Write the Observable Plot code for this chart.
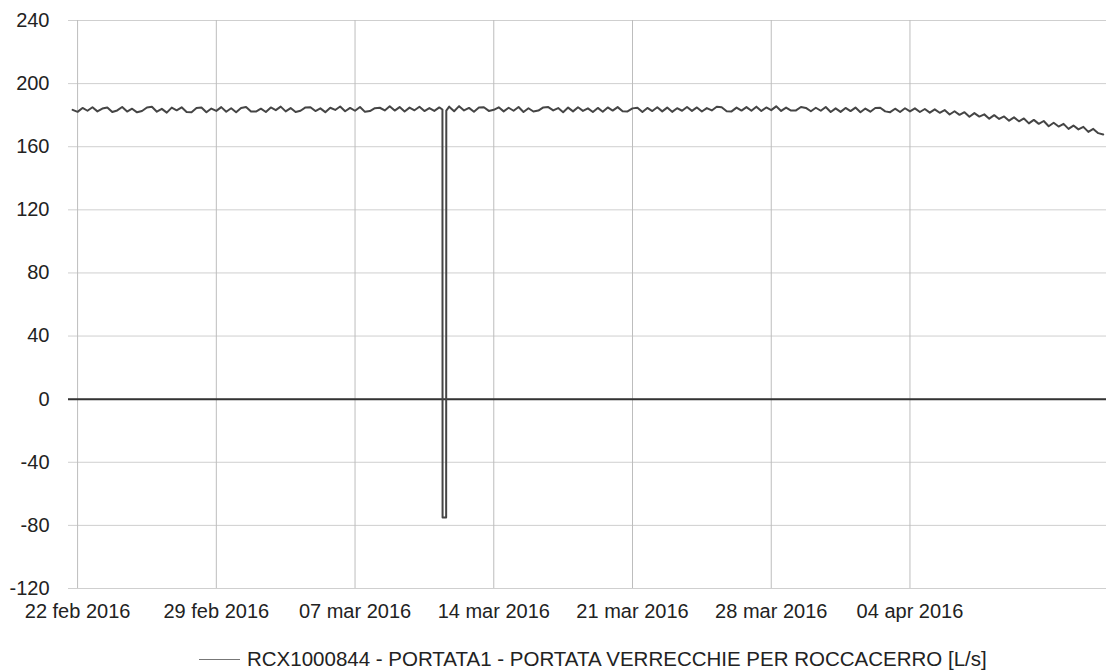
<!DOCTYPE html>
<html>
<head>
<meta charset="utf-8">
<script src="https://cdn.jsdelivr.net/npm/d3@7"></script>
<script src="https://cdn.jsdelivr.net/npm/@observablehq/plot@0.6"></script>
<style>
  body { margin: 0; background: #fff; font-family: "Liberation Sans", Arial, sans-serif; }
  #chart { position: relative; width: 1110px; height: 671px; overflow: hidden; }
  #legend { position: absolute; left: 199px; top: 647px; font-size: 20.5px; line-height: 24px; color: #222;
            display: flex; align-items: center; white-space: nowrap; }
  #legend .sw { width: 41px; height: 0; border-top: 1.5px solid #777; margin-right: 7px; }
</style>
</head>
<body>
<div id="chart"><div id="legend"><span class="sw"></span><span id="legendText"></span></div></div>
<script>
// ---- data ----
const seriesName = "RCX1000844 - PORTATA1 - PORTATA VERRECCHIE PER ROCCACERRO [L/s]";
const seriesStart = "2016-02-21T18:00:00Z";   // first sample
const stepHours = 6;                          // sample spacing
// flow [L/s], one row per day (00, 06, 12, 18 h), first value = 21 feb 18h
const flow = [
  183.4,
  182.1, 184.6, 182.8, 185.0,
  182.4, 184.2, 184.9, 182.0,
  183.0, 185.2, 182.3, 184.1,
  181.8, 182.6, 184.9, 185.3,
  182.2, 184.0, 181.6, 184.8,
  183.1, 185.0, 182.0, 181.9,
  184.5, 184.9, 181.8, 184.2,
  182.7, 185.1, 182.2, 184.4,
  181.9, 184.6, 185.2, 182.3,
  182.3, 184.1, 182.0, 184.9,
  183.2, 185.4, 182.4, 184.5,
  182.0, 182.8, 184.9, 185.0,
  182.6, 184.3, 181.9, 184.7,
  183.3, 185.5, 182.5, 184.6,
  182.8, 185.2, 182.1, 182.6,
  184.4, 184.7, 183.0, 185.6,
  182.9, 185.1, 182.3, 184.8,
  183.1, 185.3, 182.6, 184.5,
  182.7, 184.9, 183.2, 185.4,
  182.5, 185.7, 183.0, 184.6,
  182.2, 184.8, 185.0, 182.7,
  183.4, 185.0, 182.4, 184.7,
  182.8, 185.2, 182.0, 184.4,
  182.3, 182.9, 184.9, 185.1,
  183.0, 184.5, 181.9, 184.8,
  182.4, 185.0, 182.7, 184.3,
  182.0, 184.6, 182.2, 184.9,
  182.9, 185.1, 182.5, 182.4,
  184.3, 184.7, 182.0, 184.6,
  182.6, 185.0, 182.4, 184.8,
  182.1, 184.4, 182.8, 185.2,
  182.7, 184.9, 182.3, 184.5,
  183.0, 185.3, 185.0, 182.5,
  182.4, 184.8, 182.9, 185.1,
  182.8, 185.4, 182.6, 184.9,
  183.2, 185.6, 182.7, 184.8,
  182.9, 183.0, 185.2, 184.6,
  182.5, 184.7, 182.8, 185.2,
  182.0, 184.3, 182.1, 184.6,
  182.6, 184.8, 181.8, 184.2,
  182.2, 184.5, 184.7, 182.4,
  181.9, 184.1, 182.0, 184.4,
  182.4, 184.3, 182.0, 183.9,
  181.6, 183.7, 181.5, 183.2,
  180.4, 182.5, 180.2, 181.9,
  179.0, 181.3, 179.1, 180.5,
  177.8, 180.0, 177.6, 179.2,
  176.5, 178.6, 176.1, 177.9,
  174.8, 177.0, 174.5, 176.3,
  173.0, 175.2, 172.8, 174.5,
  171.3, 173.4, 171.0, 172.6,
  169.4, 171.3, 168.6, 167.8
];
// the short drop on 11 mar
const spikeTimes  = ["2016-03-11T09:50:00Z", "2016-03-11T10:00:00Z", "2016-03-11T14:20:00Z", "2016-03-11T14:30:00Z"];
const spikeValues = [183.6, -75, -75, 182.9];

const yTicks = [-120, -80, -40, 0, 40, 80, 120, 160, 200, 240];
const xTickDates  = ["2016-02-22", "2016-02-29", "2016-03-07", "2016-03-14", "2016-03-21", "2016-03-28", "2016-04-04"];
const xTickLabels = ["22 feb 2016", "29 feb 2016", "07 mar 2016", "14 mar 2016", "21 mar 2016", "28 mar 2016", "04 apr 2016"];
const xDomain = ["2016-02-21T13:00:00Z", "2016-04-13T22:00:00Z"];

// ---- build table ----
const t0 = new Date(seriesStart).getTime();
const sTimes = spikeTimes.map(s => new Date(s).getTime());
const sLo = d3.min(sTimes), sHi = d3.max(sTimes);
const rows = flow.map((v, i) => ({ t: t0 + i * stepHours * 3600e3, v }))
  .filter(d => d.t < sLo || d.t > sHi)
  .concat(sTimes.map((t, i) => ({ t, v: spikeValues[i] })))
  .sort((a, b) => a.t - b.t)
  .map(d => ({ t: new Date(d.t), v: d.v }));

const xTicks = xTickDates.map(s => new Date(s + "T00:00:00Z"));
const labelOf = new Map(xTicks.map((d, i) => [+d, xTickLabels[i]]));

const chart = Plot.plot({
  width: 1110,
  height: 630,
  marginLeft: 68,
  marginRight: 4,
  marginTop: 20,
  marginBottom: 42,
  style: { fontFamily: '"Liberation Sans", Arial, sans-serif', fontSize: "20px", color: "#222", background: "#fff" },
  x: { type: "utc", domain: xDomain.map(s => new Date(s)), label: null },
  y: { domain: [-120, 240], label: null },
  marks: [
    Plot.gridY(yTicks, { stroke: "#cfcfcf", strokeOpacity: 1 }),
    Plot.gridX(xTicks, { stroke: "#bdbdbd", strokeOpacity: 1 }),
    Plot.ruleY([0], { stroke: "#333", strokeWidth: 2 }),
    Plot.line(rows, { x: "t", y: "v", stroke: "#454545", strokeWidth: 2 }),
    Plot.axisY(yTicks, { tickSize: 0, tickPadding: 19, fontSize: 20, label: null, tickFormat: d => String(d) }),
    Plot.axisX(xTicks, { tickSize: 0, tickPadding: 15, fontSize: 20, label: null, tickFormat: d => labelOf.get(+d) })
  ]
});
document.getElementById("chart").prepend(chart);
document.getElementById("legendText").textContent = seriesName;
</script>
</body>
</html>
